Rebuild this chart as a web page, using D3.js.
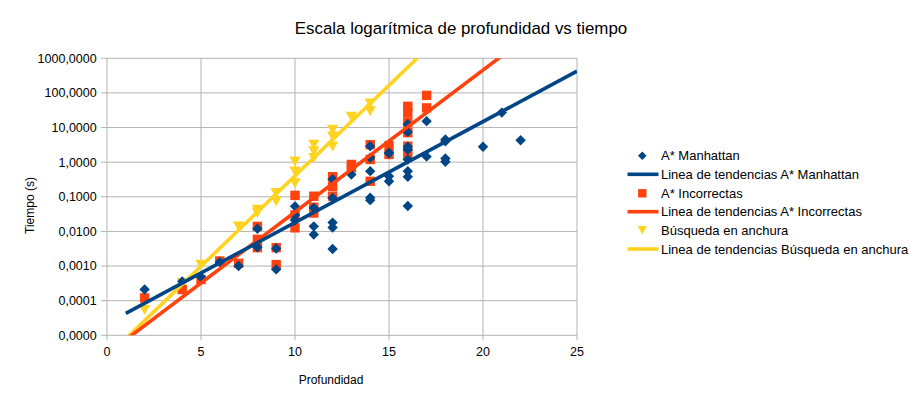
<!DOCTYPE html>
<html>
<head>
<meta charset="utf-8">
<script src="https://cdn.jsdelivr.net/npm/d3@7"></script>
<style>
  html, body { margin: 0; padding: 0; background: #fff; }
  svg { display: block; font-family: "Liberation Sans", Arial, sans-serif; }
</style>
</head>
<body>
<svg id="chart" width="918" height="405"></svg>
<script>
// ---- data ----
const title = "Escala logarítmica de profundidad vs tiempo";
const xTicks = [0, 5, 10, 15, 20, 25];
const yTicks = [0.00001, 0.0001, 0.001, 0.01, 0.1, 1, 10, 100, 1000];

const manhattanX = [2, 4, 5, 6, 7, 8, 8, 9, 9, 10, 10, 10, 11, 11, 11, 12, 12, 12, 12, 12,
  13, 14, 14, 14, 14, 14, 15, 15, 15, 15, 16, 16, 16, 16, 16, 16, 16, 16,
  17, 17, 18, 18, 18, 18, 20, 21, 22];
const manhattanY = [0.00021, 0.00036, 0.00048, 0.0013, 0.001, 0.012, 0.0035, 0.0032, 0.0008, 0.053, 0.021, 0.03, 0.048, 0.014, 0.0081, 0.32, 0.093, 0.018, 0.013, 0.0031,
  0.44, 2.9, 1.34, 0.55, 0.094, 0.08, 1.8, 0.39, 0.28, 1.87, 12.5, 7.5, 2.8, 2.3, 1.2, 0.55, 0.38, 0.054,
  15.3, 1.45, 4.5, 4.0, 1.28, 1.03, 2.8, 27, 4.3];

const incorrectasX = [2, 4, 5, 6, 7, 8, 8, 8, 9, 9, 10, 10, 10, 11, 11, 11, 12, 12, 12,
  13, 13, 14, 14, 14, 15, 15, 16, 16, 16, 16, 16, 16, 17, 17];
const incorrectasY = [0.00012, 0.00021, 0.00041, 0.0014, 0.0012, 0.014, 0.0059, 0.0034, 0.0034, 0.0011, 0.11, 0.03, 0.0127, 0.104, 0.05, 0.034, 0.38, 0.2, 0.104,
  0.86, 0.7, 3.2, 1.2, 0.28, 3.0, 1.67, 41, 26, 13.8, 7.1, 2.9, 1.67, 85, 37];

const anchuraX = [2, 4, 5, 7, 8, 8, 9, 9, 10, 10, 10, 11, 11, 11, 12, 12, 12, 13, 14, 14];
const anchuraY = [0.000055, 0.00033, 0.0011, 0.014, 0.043, 0.035, 0.075, 0.13, 1.07, 0.55, 0.25, 3.25, 2.1, 1.34, 8.8, 5.6, 2.9, 21, 50, 30];

// exponential trend lines: log10(t) = a + b * profundidad
const trendA = [-4.656, -5.54, -5.62];
const trendB = [0.2914, 0.410, 0.5226];
const trendRange = [1, 25];

const seriesNames = ["A* Manhattan", "A* Incorrectas", "Búsqueda en anchura"];
const trendNames = ["Linea de tendencias A* Manhattan", "Linea de tendencias A* Incorrectas", "Linea de tendencias Búsqueda en anchura"];
const colors = ["#004586", "#ff420e", "#ffd320"];

// ---- layout ----
const svg = d3.select("#chart");
const L = 107, R = 577, T = 58.3, B = 335.3;
const x = d3.scaleLinear().domain([0, 25]).range([L, R]);
const y = d3.scaleLog().domain([0.00001, 1000]).range([B, T]);
const fmt = v => d3.format(".4f")(v).replace(".", ",");
const grid = "#b3b3b3";

// grid lines
svg.append("g").selectAll("line").data(yTicks).join("line")
  .attr("x1", L - 6).attr("x2", R).attr("y1", d => y(d)).attr("y2", d => y(d))
  .attr("stroke", grid).attr("stroke-width", 1);
svg.append("g").selectAll("line").data(xTicks).join("line")
  .attr("x1", d => x(d)).attr("x2", d => x(d)).attr("y1", T).attr("y2", B + 5)
  .attr("stroke", grid).attr("stroke-width", 1);

// tick labels
svg.append("g").selectAll("text").data(yTicks).join("text")
  .attr("x", L - 10.3).attr("y", d => y(d)).attr("dy", "0.35em")
  .attr("text-anchor", "end").attr("font-size", 12.5).attr("fill", "#000")
  .text(fmt);
svg.append("g").selectAll("text").data(xTicks).join("text")
  .attr("x", d => x(d)).attr("y", B + 21)
  .attr("text-anchor", "middle").attr("font-size", 12.5).attr("fill", "#000")
  .text(d => d);

// titles
svg.append("text").attr("x", 461).attr("y", 34).attr("text-anchor", "middle")
  .attr("font-size", 16.9).text(title);
svg.append("text").attr("x", 331).attr("y", 384).attr("text-anchor", "middle")
  .attr("font-size", 12).text("Profundidad");
svg.append("text").attr("transform", "translate(34,205.5) rotate(-90)")
  .attr("text-anchor", "middle").attr("font-size", 12).text("Tiempo (s)");

// clip
svg.append("clipPath").attr("id", "plot").append("rect")
  .attr("x", L).attr("y", T).attr("width", R - L).attr("height", B - T);

// marker shapes
const diamond = s => `M0,${-s}L${s},0L0,${s}L${-s},0Z`;
const square = s => `M${-s},${-s}H${s}V${s}H${-s}Z`;
const triangle = s => `M${-s},${-s * 0.85}H${s}L0,${s * 0.95}Z`;
const shapes = [diamond(5.2), square(4.7), triangle(5.6)];

const pts = [
  d3.zip(manhattanX, manhattanY),
  d3.zip(incorrectasX, incorrectasY),
  d3.zip(anchuraX, anchuraY)
];

// draw points (yellow, red, blue)
[2, 1, 0].forEach(i => {
  svg.append("g").selectAll("path").data(pts[i]).join("path")
    .attr("transform", d => `translate(${x(d[0])},${y(d[1])})`)
    .attr("d", shapes[i]).attr("fill", colors[i]);
});

// trend lines
const line = d3.line().x(d => x(d[0])).y(d => y(d[1]));
[2, 1, 0].forEach(i => {
  const data = trendRange.map(d => [d, Math.pow(10, trendA[i] + trendB[i] * d)]);
  svg.append("path").attr("clip-path", "url(#plot)")
    .attr("d", line(data)).attr("fill", "none")
    .attr("stroke", colors[i]).attr("stroke-width", 3.6);
});

// legend
const lg = svg.append("g");
const rowY = [155.7, 174.3, 193.3, 211.7, 230, 249];
for (let i = 0; i < 3; i++) {
  const yp = rowY[i * 2], yl = rowY[i * 2 + 1];
  lg.append("path").attr("transform", `translate(642.3,${yp})`)
    .attr("d", [diamond(4.3), square(4.2), triangle(4.6)][i]).attr("fill", colors[i]);
  lg.append("text").attr("x", 661).attr("y", yp).attr("dy", "0.35em")
    .attr("font-size", 13).text(seriesNames[i]);
  lg.append("line").attr("x1", 627.5).attr("x2", 658.5).attr("y1", yl).attr("y2", yl)
    .attr("stroke", colors[i]).attr("stroke-width", 3.6);
  lg.append("text").attr("x", 661).attr("y", yl).attr("dy", "0.35em")
    .attr("font-size", 13).text(trendNames[i]);
}
</script>
</body>
</html>
